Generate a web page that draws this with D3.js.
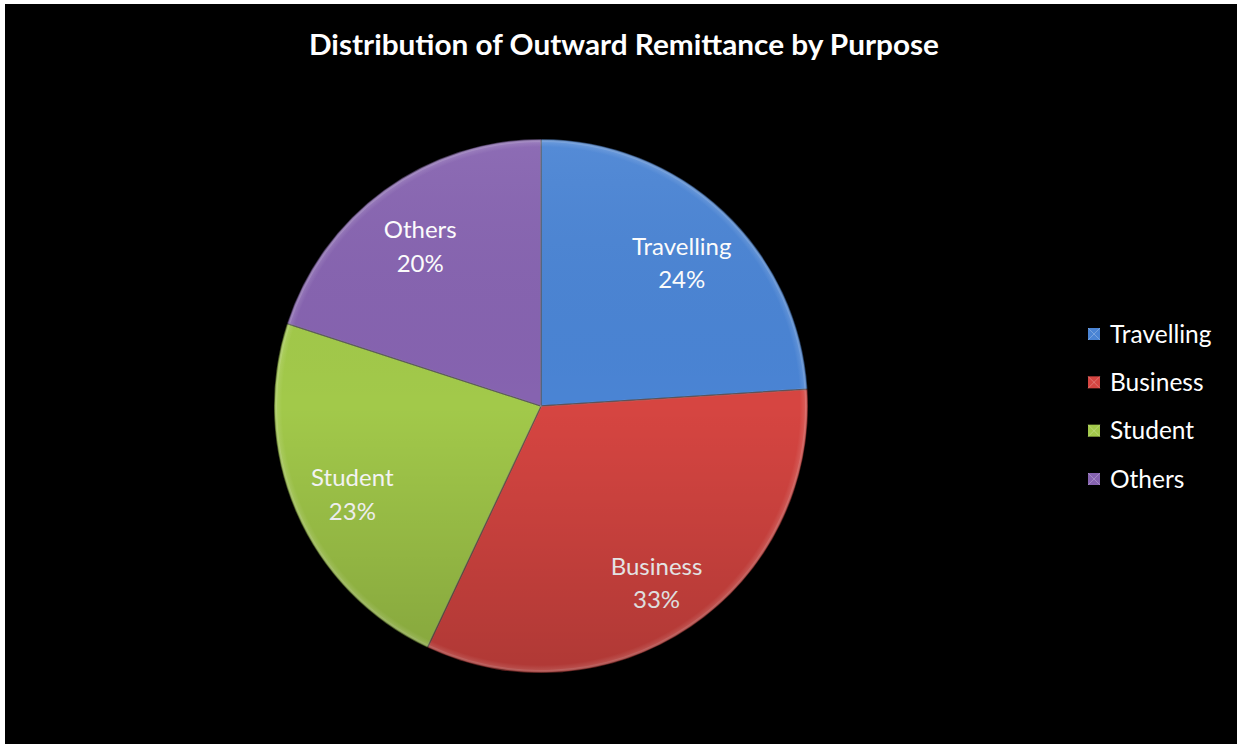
<!DOCTYPE html>
<html>
<head>
<meta charset="utf-8">
<script src="https://cdn.jsdelivr.net/npm/d3@7"></script>
<style>
  body { margin: 0; background: #fff; }
  svg { display: block; }
  text { font-family: Lato, "Open Sans", sans-serif; fill: #fff; }
</style>
</head>
<body>
<script>
// Outward remittance split by purpose (percent)
var categories = ["Travelling", "Business", "Student", "Others"];
var values = [24, 33, 23, 20];
var colors = ["#4A84D4", "#D64541", "#A2C94A", "#8663B0"];

var width = 1237, height = 744;
var cx = 541, cy = 406, radius = 267;

var svg = d3.select("body").append("svg")
    .attr("width", width)
    .attr("height", height);

// black plot area, thin white margin top/left like the original export
svg.append("rect")
    .attr("x", 5).attr("y", 4)
    .attr("width", width - 5).attr("height", height - 4)
    .attr("fill", "#000");

var defs = svg.append("defs");

// vertical shading: lighter on top, darker toward the bottom
var shade = defs.append("linearGradient")
    .attr("id", "shade")
    .attr("gradientUnits", "userSpaceOnUse")
    .attr("x1", 0).attr("y1", cy - radius)
    .attr("x2", 0).attr("y2", cy + radius);
shade.append("stop").attr("offset", "0%").attr("stop-color", "#fff").attr("stop-opacity", 0.06);
shade.append("stop").attr("offset", "50%").attr("stop-color", "#000").attr("stop-opacity", 0);
shade.append("stop").attr("offset", "100%").attr("stop-color", "#000").attr("stop-opacity", 0.18);

// soft rim highlight near the outer edge
var rim = defs.append("radialGradient")
    .attr("id", "rim")
    .attr("gradientUnits", "userSpaceOnUse")
    .attr("cx", cx).attr("cy", cy).attr("r", radius);
rim.append("stop").attr("offset", "0%").attr("stop-color", "#fff").attr("stop-opacity", 0);
rim.append("stop").attr("offset", "97%").attr("stop-color", "#fff").attr("stop-opacity", 0);
rim.append("stop").attr("offset", "99%").attr("stop-color", "#fff").attr("stop-opacity", 0.12);
rim.append("stop").attr("offset", "100%").attr("stop-color", "#000").attr("stop-opacity", 0.25);

var pie = d3.pie().sort(null).value(function(d) { return d; });
var arcs = pie(values);

var arc = d3.arc().innerRadius(0).outerRadius(radius);
var labelArc = d3.arc().innerRadius(radius * 0.77).outerRadius(radius * 0.77);

var g = svg.append("g").attr("transform", "translate(" + cx + "," + cy + ")");

g.selectAll("path.slice")
    .data(arcs)
    .enter().append("path")
    .attr("class", "slice")
    .attr("d", arc)
    .attr("fill", function(d, i) { return colors[i]; })
    .attr("stroke", "rgba(0,0,0,0.45)")
    .attr("stroke-width", 1.5);

// shading overlays (coordinates of gradients are in page space)
var overlay = svg.append("g");
overlay.append("circle")
    .attr("cx", cx).attr("cy", cy).attr("r", radius)
    .attr("fill", "url(#shade)");
overlay.append("circle")
    .attr("cx", cx).attr("cy", cy).attr("r", radius)
    .attr("fill", "url(#rim)");

// inner bevel line along each slice
g.selectAll("path.bevel")
    .data(arcs)
    .enter().append("path")
    .attr("class", "bevel")
    .attr("d", d3.arc().innerRadius(0).outerRadius(radius - 2))
    .attr("fill", "none")
    .attr("stroke", "rgba(255,255,255,0.12)")
    .attr("stroke-width", 2);

// data labels
var labels = g.selectAll("text.lbl")
    .data(arcs)
    .enter().append("text")
    .attr("class", "lbl")
    .attr("text-anchor", "middle")
    .attr("font-size", 24)
    .attr("transform", function(d) { return "translate(" + labelArc.centroid(d) + ")"; });

labels.append("tspan")
    .attr("x", 0).attr("dy", "-0.05em")
    .text(function(d, i) { return categories[i]; });
labels.append("tspan")
    .attr("x", 0).attr("dy", "1.38em")
    .text(function(d) { return d.data + "%"; });

// title
svg.append("text")
    .attr("x", 624).attr("y", 55)
    .attr("text-anchor", "middle")
    .attr("font-size", 28)
    .attr("font-weight", "bold")
    .attr("textLength", 630)
    .attr("lengthAdjust", "spacingAndGlyphs")
    .text("Distribution of Outward Remittance by Purpose");

// legend
var legendY = d3.scalePoint().domain(categories).range([334, 479]);

var legend = svg.selectAll("g.legend")
    .data(categories)
    .enter().append("g")
    .attr("class", "legend")
    .attr("transform", function(d) { return "translate(1088," + legendY(d) + ")"; });

legend.append("rect")
    .attr("x", 0).attr("y", -6)
    .attr("width", 12).attr("height", 12)
    .attr("fill", function(d, i) { return colors[i]; });

legend.append("path")
    .attr("d", "M0,-6L12,6M12,-6L0,6")
    .attr("stroke", "rgba(255,255,255,0.25)")
    .attr("stroke-width", 1);

legend.append("text")
    .attr("x", 22).attr("y", 0)
    .attr("dy", "0.36em")
    .attr("font-size", 24.5)
    .text(function(d) { return d; });
</script>
</body>
</html>
